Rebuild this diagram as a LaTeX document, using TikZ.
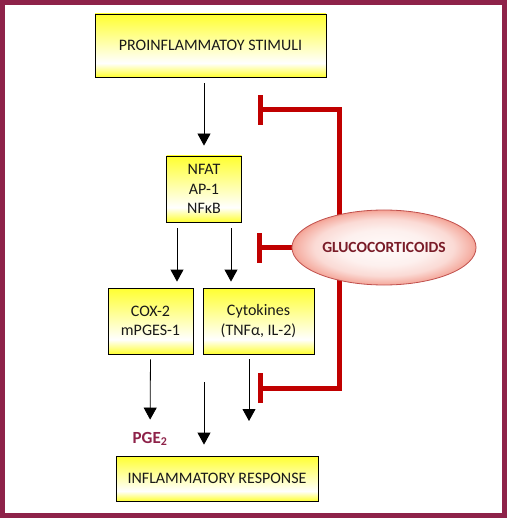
\documentclass[tikz,border=0pt]{standalone}
\usepackage{fontspec}
\setmainfont{Carlito}
\usetikzlibrary{shapes.geometric, arrows.meta, backgrounds}
\definecolor{gcMaroon}{HTML}{8E2249}
\definecolor{gcRed}{HTML}{C00000}
\definecolor{gcYellow}{HTML}{FFFF30}
\definecolor{gcPink}{HTML}{F08472}
\definecolor{gcEdge}{HTML}{C0504D}
\definecolor{gcText}{HTML}{7A1C28}
\pgfdeclareverticalshading{boxShade}{100bp}{color(0bp)=(gcYellow); color(25bp)=(gcYellow); color(36bp)=(white); color(75bp)=(gcYellow); color(100bp)=(gcYellow)}
\pgfdeclareradialshading{glucoShade}{\pgfpoint{0bp}{0bp}}{color(0bp)=(white!97!gcPink); color(12bp)=(white!88!gcPink); color(19bp)=(white!70!gcPink); color(24bp)=(white!35!gcPink); color(27bp)=(gcPink); color(50bp)=(gcPink)}

\begin{document}
\begin{tikzpicture}[x=1pt, y=-1pt,
  every node/.style={font=\fontsize{16}{19.5}\selectfont},
  factorbox/.style={draw, line width=0.8pt, shading=boxShade, align=center, inner sep=0pt, text=black!90},
  arr/.style={-{Triangle[width=13pt,length=12pt]}, line width=0.8pt},
  inhib/.style={gcRed, line width=5pt, -{Bar[width=30pt]}}]
  % Boxes
  \node[factorbox, minimum width=231pt, minimum height=63pt] (stim) at (210.5,45.5) {PROINFLAMMATOY STIMULI};
  \node[factorbox, minimum width=75pt, minimum height=66pt] (nfat) at (204,189) {NFAT\\AP-1\\NFκB};
  \node[factorbox, minimum width=85pt, minimum height=66pt] (cox) at (150.5,321) {COX-2\\mPGES-1};
  \node[factorbox, minimum width=111pt, minimum height=66pt] (cyto) at (258.5,321) {Cytokines\\(TNFα, IL-2)};
  \node[factorbox, minimum width=202pt, minimum height=45pt] (resp) at (217,478.5) {INFLAMMATORY RESPONSE};
  \node[text=gcMaroon, font=\fontsize{17}{20}\selectfont\bfseries] (pge) at (150,439) {PGE\textsubscript{2}};
  % Glucocorticoids
  \node[ellipse, draw=gcEdge, line width=0.8pt, shading=glucoShade,
    minimum width=168pt, minimum height=75pt, text=gcText, font=\fontsize{15.5}{18}\selectfont\bfseries]
    (gluco) at (384,247.5) {GLUCOCORTICOIDS};
  \coordinate (gcTop) at (339,110);
  \coordinate (gcBot) at (339,388);
  \coordinate (topBar) at (258,110);
  \coordinate (midBar) at (257,247.5);
  \coordinate (botBar) at (258,388);
  \coordinate (midStart) at (204,382);
  \coordinate (cytoEnd) at (249,421);
  % Arrows
  \draw[arr, shorten <=6pt, shorten >=10pt] (stim.south -| nfat.north) -- (nfat.north);
  \draw[arr, shorten <=6pt, shorten >=6pt] ([xshift=-27pt]nfat.south) -- ([xshift=-27pt]nfat.south |- cox.north);
  \draw[arr, shorten <=6pt, shorten >=6pt] ([xshift=27pt]nfat.south) -- ([xshift=27pt]nfat.south |- cyto.north);
  \draw[arr, shorten <=5pt, shorten >=9pt] (cox.south) -- (pge);
  \draw[arr, shorten <=5pt] (cytoEnd |- cyto.south) -- (cytoEnd);
  \draw[arr, shorten >=11pt] (midStart) -- (midStart |- resp.north);
  % Frame and inhibition
  \begin{scope}[on background layer]
    \fill[gcMaroon] (0,0) rectangle (507,518);
    \fill[white] (5,5) rectangle (502,513);
    \draw[inhib] (gluco.center -| gcTop) -- (gcTop) -- (topBar);
    \draw[inhib] (gluco.center -| gcBot) -- (gcBot) -- (botBar);
    \draw[inhib] (gluco.west) -- (midBar);
  \end{scope}
\end{tikzpicture}
\end{document}
